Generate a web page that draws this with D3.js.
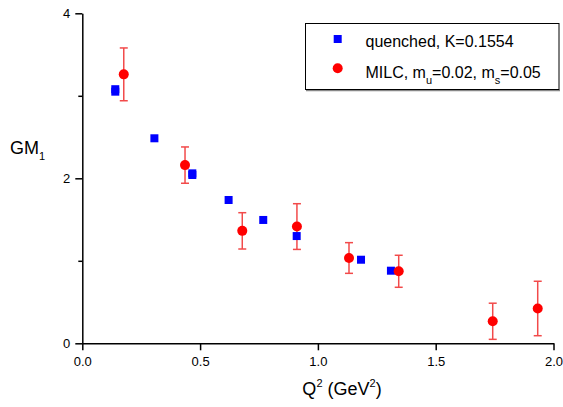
<!DOCTYPE html>
<html>
<head>
<meta charset="utf-8">
<script src="https://cdn.jsdelivr.net/npm/d3@7"></script>
<style>
  html, body { margin: 0; padding: 0; background: #fff; }
  svg { display: block; font-family: "Liberation Sans", Arial, sans-serif; }
</style>
</head>
<body>
<svg id="chart" width="563" height="407"></svg>
<script>
// Quenched lattice results, kappa = 0.1554
const quenchedQ2 = [0.14, 0.14, 0.306, 0.467, 0.467, 0.621, 0.768, 0.910, 1.183, 1.310];
const quenchedGM = [3.08, 3.05, 2.485, 2.06, 2.04, 1.737, 1.495, 1.30, 1.013, 0.88];

// MILC dynamical configurations, with symmetric errors
const milcQ2  = [0.176, 0.436, 0.679, 0.911, 1.132, 1.343, 1.742, 1.933];
const milcGM  = [3.26, 2.16, 1.363, 1.415, 1.034, 0.873, 0.267, 0.422];
const milcErr = [0.32, 0.22, 0.22, 0.277, 0.186, 0.194, 0.219, 0.33];

// Axis ticks
const xTicks = [0, 0.5, 1.0, 1.5, 2.0];
const xTickLabels = ["0.0", "0.5", "1.0", "1.5", "2.0"];
const yMajorTicks = [0, 2, 4];
const yMinorTicks = [1, 3];

const svg = d3.select("#chart");

const x = d3.scaleLinear().domain([0, 2]).range([82.3, 553.5]);
const y = d3.scaleLinear().domain([0, 4]).range([343.3, 13.3]);

// x axis
const xAxis = d3.axisBottom(x)
  .tickValues(xTicks)
  .tickFormat((d, i) => xTickLabels[i])
  .tickSizeInner(7).tickSizeOuter(0).tickPadding(6);
const gx = svg.append("g").attr("transform", `translate(0,${y(0)})`).call(xAxis);
gx.select(".domain").attr("stroke", "#000").attr("stroke-width", 1.5);
gx.selectAll(".tick line").attr("stroke", "#000").attr("stroke-width", 1.5);
gx.selectAll(".tick text").attr("font-size", 13).attr("fill", "#000")
  .attr("font-family", "Liberation Sans, Arial, sans-serif");

// y axis (major with labels, minor without)
const yAxis = d3.axisLeft(y)
  .tickValues(yMajorTicks)
  .tickFormat(d3.format("d"))
  .tickSizeInner(7).tickSizeOuter(0).tickPadding(5);
const gy = svg.append("g").attr("transform", `translate(${x(0)},0)`).call(yAxis);
gy.select(".domain").attr("stroke", "#000").attr("stroke-width", 1.5);
gy.selectAll(".tick line").attr("stroke", "#000").attr("stroke-width", 1.5);
gy.selectAll(".tick text").attr("font-size", 13).attr("fill", "#000")
  .attr("font-family", "Liberation Sans, Arial, sans-serif");

const yMinor = d3.axisLeft(y).tickValues(yMinorTicks).tickFormat("").tickSizeInner(4).tickSizeOuter(0);
const gyMinor = svg.append("g").attr("transform", `translate(${x(0)},0)`).call(yMinor);
gyMinor.select(".domain").remove();
gyMinor.selectAll(".tick line").attr("stroke", "#000").attr("stroke-width", 1.5);

// axis titles
const xTitle = svg.append("text")
  .attr("x", 342).attr("y", 395)
  .attr("text-anchor", "middle").attr("font-size", 18).attr("fill", "#000");
xTitle.append("tspan").text("Q");
xTitle.append("tspan").attr("font-size", 11).attr("dy", -8).text("2");
xTitle.append("tspan").attr("dy", 8).text(" (GeV");
xTitle.append("tspan").attr("font-size", 11).attr("dy", -8).text("2");
xTitle.append("tspan").attr("dy", 8).text(")");

const yTitle = svg.append("text")
  .attr("x", 10).attr("y", 154)
  .attr("font-size", 18).attr("fill", "#000");
yTitle.append("tspan").text("GM");
yTitle.append("tspan").attr("font-size", 11).attr("dy", 6).text("1");

// MILC error bars
const errColor = "#f24a4a";
const capHalf = 4;
const eb = svg.append("g").attr("stroke", errColor).attr("stroke-width", 1.5);
milcQ2.forEach((q, i) => {
  const cx = x(q), top = y(milcGM[i] + milcErr[i]), bot = y(milcGM[i] - milcErr[i]);
  eb.append("line").attr("x1", cx).attr("x2", cx).attr("y1", top).attr("y2", bot);
  eb.append("line").attr("x1", cx - capHalf).attr("x2", cx + capHalf).attr("y1", top).attr("y2", top);
  eb.append("line").attr("x1", cx - capHalf).attr("x2", cx + capHalf).attr("y1", bot).attr("y2", bot);
});

// quenched squares
const sq = 8;
svg.append("g").selectAll("rect")
  .data(quenchedQ2.map((q, i) => [q, quenchedGM[i]]))
  .join("rect")
  .attr("x", d => x(d[0]) - sq / 2)
  .attr("y", d => y(d[1]) - sq / 2)
  .attr("width", sq).attr("height", sq)
  .attr("fill", "#0000ff");

// MILC circles
svg.append("g").selectAll("circle")
  .data(milcQ2.map((q, i) => [q, milcGM[i]]))
  .join("circle")
  .attr("cx", d => x(d[0]))
  .attr("cy", d => y(d[1]))
  .attr("r", 5)
  .attr("fill", "#ff0000");

// legend
const lg = svg.append("g");
lg.append("line").attr("x1", 306).attr("x2", 560).attr("y1", 90.5).attr("y2", 90.5)
  .attr("stroke", "#888").attr("stroke-width", 1.5);
lg.append("rect").attr("x", 305.5).attr("y", 23.5).attr("width", 253.5).attr("height", 66)
  .attr("fill", "#fff").attr("stroke", "#000").attr("stroke-width", 1);
lg.append("rect").attr("x", 333.7).attr("y", 35).attr("width", 8).attr("height", 8).attr("fill", "#0000ff");
lg.append("circle").attr("cx", 337.7).attr("cy", 68.3).attr("r", 5).attr("fill", "#ff0000");
lg.append("text").attr("x", 365.5).attr("y", 47).attr("font-size", 16).attr("fill", "#000")
  .text("quenched, K=0.1554");
const t2 = lg.append("text").attr("x", 365.5).attr("y", 78).attr("font-size", 16).attr("fill", "#000");
t2.append("tspan").text("MILC, m");
t2.append("tspan").attr("font-size", 11).attr("dy", 6).text("u");
t2.append("tspan").attr("dy", -6).text("=0.02, m");
t2.append("tspan").attr("font-size", 11).attr("dy", 6).text("s");
t2.append("tspan").attr("dy", -6).text("=0.05");
</script>
</body>
</html>
